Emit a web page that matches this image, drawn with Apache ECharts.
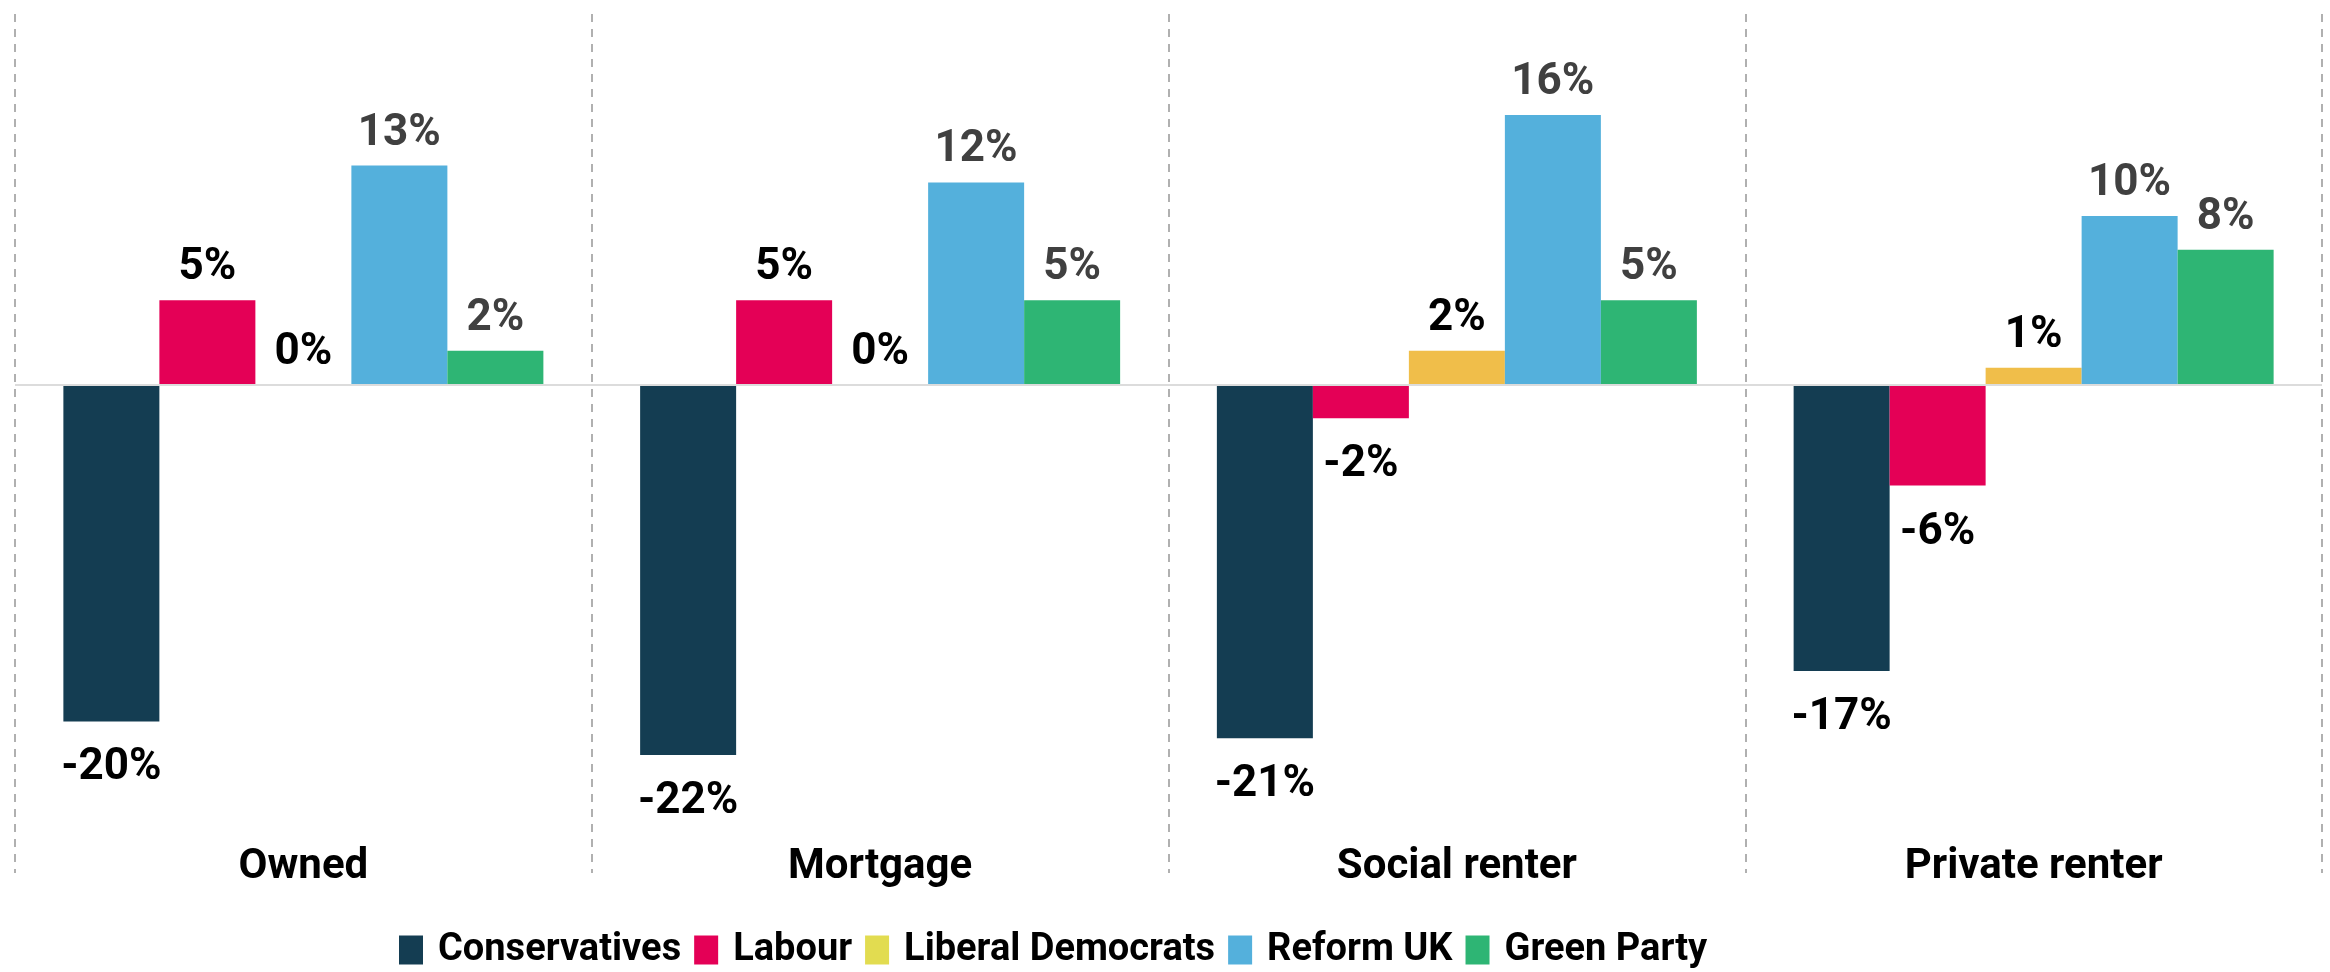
<!DOCTYPE html>
<html>
<head>
<meta charset="utf-8">
<script src="https://cdn.jsdelivr.net/npm/echarts@6/dist/echarts.min.js"></script>
<style>
  html, body { margin: 0; padding: 0; background: #ffffff; }
  #chart { width: 2330px; height: 972px; }
</style>
</head>
<body>
<div id="chart"></div>
<script>
const categories = ['Owned', 'Mortgage', 'Social renter', 'Private renter'];
const seriesNames = ['Conservatives', 'Labour', 'Liberal Democrats', 'Reform UK', 'Green Party'];
const conservatives = [-20, -22, -21, -17];
const labour = [5, 5, -2, -6];
const libDems = [0, 0, 2, 1];
const reformUK = [13, 12, 16, 10];
const greenParty = [2, 5, 5, 8];

const barColors = ['#143D52', '#E40056', '#F0BE4A', '#54B0DC', '#2EB574'];
const legendColors = ['#143D52', '#E40056', '#E2DC50', '#54B0DC', '#2EB574'];
const labelColors = ['#000000', '#000000', '#000000', '#404040', '#404040'];
const allValues = [conservatives, labour, libDems, reformUK, greenParty];

const FONT = 'Roboto';

const series = allValues.map((vals, i) => {
  const s = {
    name: seriesNames[i],
    type: 'bar',
    barWidth: 96,
    barGap: '0%',
    itemStyle: { color: barColors[i] },
    data: vals.map(v => ({
      value: v,
      label: {
        position: v < 0 ? 'bottom' : 'top',
        distance: v < 0 ? 25 : 10
      }
    })),
    label: {
      show: true,
      formatter: '{c}%',
      fontFamily: FONT,
      fontWeight: 'bold',
      fontSize: 44,
      color: labelColors[i]
    }
  };
  if (i === 0) {
    s.markLine = {
      silent: true,
      symbol: ['none', 'none'],
      label: { show: false },
      lineStyle: { color: '#dcdcdc', width: 2, type: 'solid' },
      data: [{ yAxis: 0 }],
      animation: false
    };
  }
  return s;
});

const chart = echarts.init(document.getElementById('chart'), null, { renderer: 'canvas' });
chart.setOption({
  animation: false,
  backgroundColor: '#ffffff',
  grid: { left: 15, right: 8, top: 14, bottom: 99, containLabel: false },
  legend: {
    left: 394,
    top: 926,
    icon: 'rect',
    itemWidth: 24,
    itemHeight: 29,
    itemGap: 13,
    data: seriesNames.map((n, i) => ({ name: n, itemStyle: { color: legendColors[i] } })),
    textStyle: {
      fontFamily: FONT,
      fontWeight: 'bold',
      fontSize: 38,
      color: '#000000',
      padding: [0, 0, 0, 10]
    }
  },
  xAxis: {
    type: 'category',
    data: categories,
    axisLine: { show: false, onZero: false },
    axisTick: { show: false },
    axisLabel: {
      margin: -27,
      fontFamily: FONT,
      fontWeight: 'bold',
      fontSize: 42,
      color: '#000000'
    },
    splitLine: {
      show: true,
      lineStyle: { color: '#b0b0b0', width: 2, type: [8, 7] }
    }
  },
  yAxis: {
    type: 'value',
    min: -29,
    max: 22,
    axisLine: { show: false },
    axisTick: { show: false },
    axisLabel: { show: false },
    splitLine: { show: false }
  },
  series: series
});
</script>
</body>
</html>
